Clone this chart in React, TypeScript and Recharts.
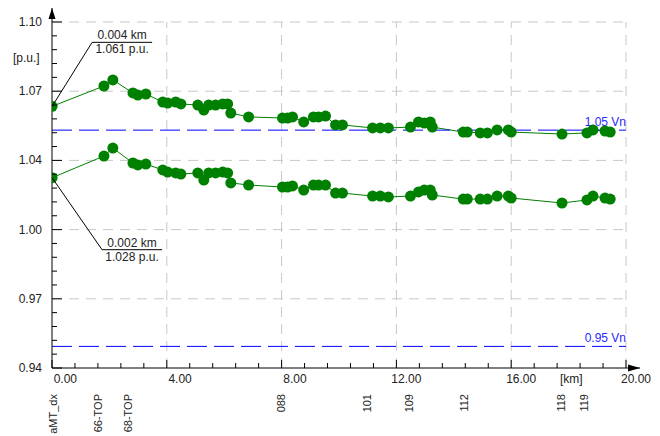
import { LineChart, Line, XAxis, YAxis, ReferenceLine, ReferenceDot } from 'recharts'

// distance along feeder [km] and voltages [p.u.] of both profiles
const pointKm = [
  0.004, 1.81, 2.12, 2.82, 2.99, 3.27, 3.86, 4.03, 4.31, 4.49, 5.08, 5.29, 5.46, 5.7, 5.95, 6.12,
  6.23, 6.85, 8.03, 8.21, 8.38, 8.77, 9.11, 9.29, 9.53, 9.88, 10.12, 11.17, 11.44, 11.72, 12.49,
  12.77, 12.97, 13.18, 13.25, 14.33, 14.47, 14.92, 15.17, 15.51, 15.9, 16.0, 17.77, 18.64, 18.85,
  19.27, 19.45,
]
const upperPu = [
  1.061, 1.0704, 1.0732, 1.0672, 1.0662, 1.0667, 1.063, 1.0625, 1.063, 1.0621, 1.0616, 1.0593,
  1.0616, 1.0616, 1.0621, 1.0621, 1.0579, 1.0561, 1.0556, 1.0556, 1.0561, 1.0538, 1.0561, 1.0561,
  1.0565, 1.0524, 1.0524, 1.051, 1.051, 1.051, 1.0514, 1.0538, 1.0533, 1.0538, 1.0514, 1.0491,
  1.0491, 1.0487, 1.0487, 1.0501, 1.0501, 1.0491, 1.0482, 1.0487, 1.0501, 1.0496, 1.0491,
]
const lowerPu = [
  1.028, 1.038, 1.0417, 1.0348, 1.0339, 1.0343, 1.0316, 1.0306, 1.0302, 1.0297, 1.0302, 1.0269,
  1.0302, 1.0302, 1.0306, 1.0302, 1.0256, 1.0246, 1.0237, 1.0237, 1.0242, 1.0223, 1.0246, 1.0246,
  1.0246, 1.0209, 1.0209, 1.0195, 1.0195, 1.0191, 1.0195, 1.0214, 1.0223, 1.0223, 1.02, 1.0181,
  1.0181, 1.0181, 1.0181, 1.0195, 1.0195, 1.0186, 1.0163, 1.0177, 1.0195, 1.0186, 1.0181,
]

const xMajorTicks = [0, 4, 8, 12, 16, 20]
const yMajorTicks = [0.94, 0.972, 1.004, 1.036, 1.068, 1.1]

const nodeKm = [0.05, 1.62, 2.66, 7.97, 10.97, 12.43, 14.35, 17.74, 18.54]
const nodeNames = ['aMT_dx', '66-TOP', '68-TOP', '088', '101', '109', '112', '118', '119']

const limitPu = [1.05, 0.95]
const limitLabels = ['1.05 Vn', '0.95 Vn']

const calloutKm = [0.004, 0.002]
const calloutPu = [1.061, 1.028]

const upperData = pointKm.map((km, i) => ({ km, pu: upperPu[i] }))
const lowerData = pointKm.map((km, i) => ({ km, pu: lowerPu[i] }))

// 5 subdivisions between major ticks
const withMinor = (major: number[]) => {
  const out: number[] = []
  for (let i = 0; i < major.length - 1; i++) {
    const step = (major[i + 1] - major[i]) / 5
    for (let k = 0; k < 5; k++) out.push(+(major[i] + k * step).toFixed(5))
  }
  out.push(major[major.length - 1])
  return out
}
const xTicks = withMinor(xMajorTicks)
const yTicks = withMinor(yMajorTicks)
const isMajor = (v: number, list: number[]) => list.some((m) => Math.abs(m - v) < 1e-6)

const GREEN = '#008000'
const GRID = '#c8c8c8'
const TXT = '#222'

function KmTick({ x, y, payload }: any) {
  const major = isMajor(payload.value, xMajorTicks)
  return (
    <g>
      <line x1={x} x2={x} y1={y} y2={y - (major ? 8 : 5)} stroke="#000" />
      {major && (
        <text x={x + 25} y={y + 15} textAnchor="end" fontSize={12} fill={TXT}>
          {payload.value.toFixed(2)}
        </text>
      )}
    </g>
  )
}

function PuTick({ x, y, payload }: any) {
  const major = isMajor(payload.value, yMajorTicks)
  return (
    <g>
      <line x1={x} x2={x + (major ? 10 : 5)} y1={y} y2={y} stroke="#000" />
      {major && (
        <text x={x - 10} y={y + 4} textAnchor="end" fontSize={12} fill={TXT}>
          {payload.value.toFixed(2)}
        </text>
      )}
    </g>
  )
}

function NodeTick({ x, y, payload }: any) {
  const idx = nodeKm.findIndex((k) => Math.abs(k - payload.value) < 1e-6)
  const tx = x + 4
  const ty = y + 6
  return (
    <text
      x={tx}
      y={ty}
      transform={`rotate(-90, ${tx}, ${ty})`}
      textAnchor="end"
      fontSize={11}
      fill={TXT}
    >
      {idx >= 0 ? nodeNames[idx] : ''}
    </text>
  )
}

function Callout({ cx, cy, dx, dy, len, km, pu }: any) {
  const ex = cx + dx
  const ey = cy + dy
  return (
    <g>
      <line x1={cx} y1={cy} x2={ex} y2={ey} stroke="#000" />
      <line x1={ex} y1={ey} x2={ex + len} y2={ey} stroke="#000" />
      <text x={ex + len / 2} y={ey - 3} textAnchor="middle" fontSize={12} fill={TXT}>
        {km.toFixed(3)} km
      </text>
      <text x={ex + len / 2} y={ey + 11} textAnchor="middle" fontSize={12} fill={TXT}>
        {pu.toFixed(3)} p.u.
      </text>
    </g>
  )
}

const arrowUp = (p: any) => (
  <g>
    <line x1={p.x1} y1={p.y1} x2={p.x2} y2={p.y2} stroke="#000" />
    <path d={`M${p.x2},${p.y2} L${p.x2 - 3.5},${p.y2 + 11} L${p.x2 + 3.5},${p.y2 + 11} Z`} fill="#000" />
  </g>
)
const arrowRight = (p: any) => (
  <g>
    <line x1={p.x1} y1={p.y1} x2={p.x2} y2={p.y2} stroke="#000" />
    <path d={`M${p.x2},${p.y2} L${p.x2 - 12},${p.y2 - 3.5} L${p.x2 - 12},${p.y2 + 3.5} Z`} fill="#000" />
  </g>
)

export default function App() {
  return (
    <div style={{ position: 'absolute', left: 0, top: 0, width: 660, height: 436, overflow: 'hidden', background: '#fff' }}>
      <LineChart
        width={660}
        height={436}
        data={upperData}
        margin={{ top: 22, right: 34, left: 0, bottom: 0 }}
        style={{ fontFamily: '"Liberation Sans", Arial, sans-serif' }}
      >
        <XAxis
          dataKey="km"
          type="number"
          domain={[0, 20]}
          ticks={xTicks}
          interval={0}
          height={20}
          tickSize={0}
          tickMargin={0}
          tickLine={false}
          axisLine={{ stroke: '#000' }}
          tick={KmTick}
          allowDataOverflow
        />
        <XAxis
          xAxisId="node"
          dataKey="km"
          type="number"
          domain={[0, 20]}
          ticks={nodeKm}
          interval={0}
          height={48}
          tickSize={0}
          tickMargin={0}
          tickLine={false}
          axisLine={false}
          tick={NodeTick}
          allowDataOverflow
        />
        <YAxis
          type="number"
          domain={[0.94, 1.1]}
          ticks={yTicks}
          interval={0}
          width={52}
          tickSize={0}
          tickMargin={0}
          tickLine={false}
          axisLine={{ stroke: '#000' }}
          tick={PuTick}
          allowDataOverflow
        />

        {xMajorTicks.slice(1).map((v) => (
          <ReferenceLine key={'gx' + v} x={v} stroke={GRID} strokeDasharray="10 7" />
        ))}
        {yMajorTicks.slice(1).map((v) => (
          <ReferenceLine key={'gy' + v} y={v} stroke={GRID} strokeDasharray="10 7" />
        ))}

        <Line
          data={lowerData}
          dataKey="pu"
          stroke={GREEN}
          strokeWidth={1}
          dot={{ r: 5.5, fill: GREEN, stroke: 'none' }}
          activeDot={false}
          isAnimationActive={false}
        />
        <Line
          data={upperData}
          dataKey="pu"
          stroke={GREEN}
          strokeWidth={1}
          dot={{ r: 5.5, fill: GREEN, stroke: 'none' }}
          activeDot={false}
          isAnimationActive={false}
        />
        {/* invisible series bound to the node-label axis so it gets ticks */}
        <Line
          xAxisId="node"
          data={upperData}
          dataKey="pu"
          stroke="none"
          dot={false}
          activeDot={false}
          isAnimationActive={false}
        />

        {limitPu.map((v, i) => (
          <ReferenceLine
            key={'lim' + v}
            y={v}
            stroke="#0000ff"
            strokeDasharray="20 7"
            label={(p: any) => (
              <text
                x={p.viewBox.x + p.viewBox.width}
                y={p.viewBox.y - 4}
                textAnchor="end"
                fontSize={12}
                fill="#2a2aff"
              >
                {limitLabels[i]}
              </text>
            )}
          />
        ))}

        <ReferenceLine
          segment={[{ x: 0, y: 1.1 }, { x: 0, y: 1.1065 }]}
          ifOverflow="visible"
          shape={arrowUp}
        />
        <ReferenceLine
          segment={[{ x: 20, y: 0.94 }, { x: 20.49, y: 0.94 }]}
          ifOverflow="visible"
          shape={arrowRight}
        />

        <ReferenceDot
          x={calloutKm[0]}
          y={calloutPu[0]}
          r={0}
          ifOverflow="visible"
          shape={(p: any) => <Callout cx={p.cx} cy={p.cy} dx={40} dy={-64} len={60} km={calloutKm[0]} pu={calloutPu[0]} />}
        />
        <ReferenceDot
          x={calloutKm[1]}
          y={calloutPu[1]}
          r={0}
          ifOverflow="visible"
          shape={(p: any) => <Callout cx={p.cx} cy={p.cy} dx={50} dy={72} len={60} km={calloutKm[1]} pu={calloutPu[1]} />}
        />

        <text x={13} y={62} fontSize={12} fill={TXT}>[p.u.]</text>
        <text x={560} y={383} fontSize={12} fill={TXT}>[km]</text>
      </LineChart>
    </div>
  )
}
